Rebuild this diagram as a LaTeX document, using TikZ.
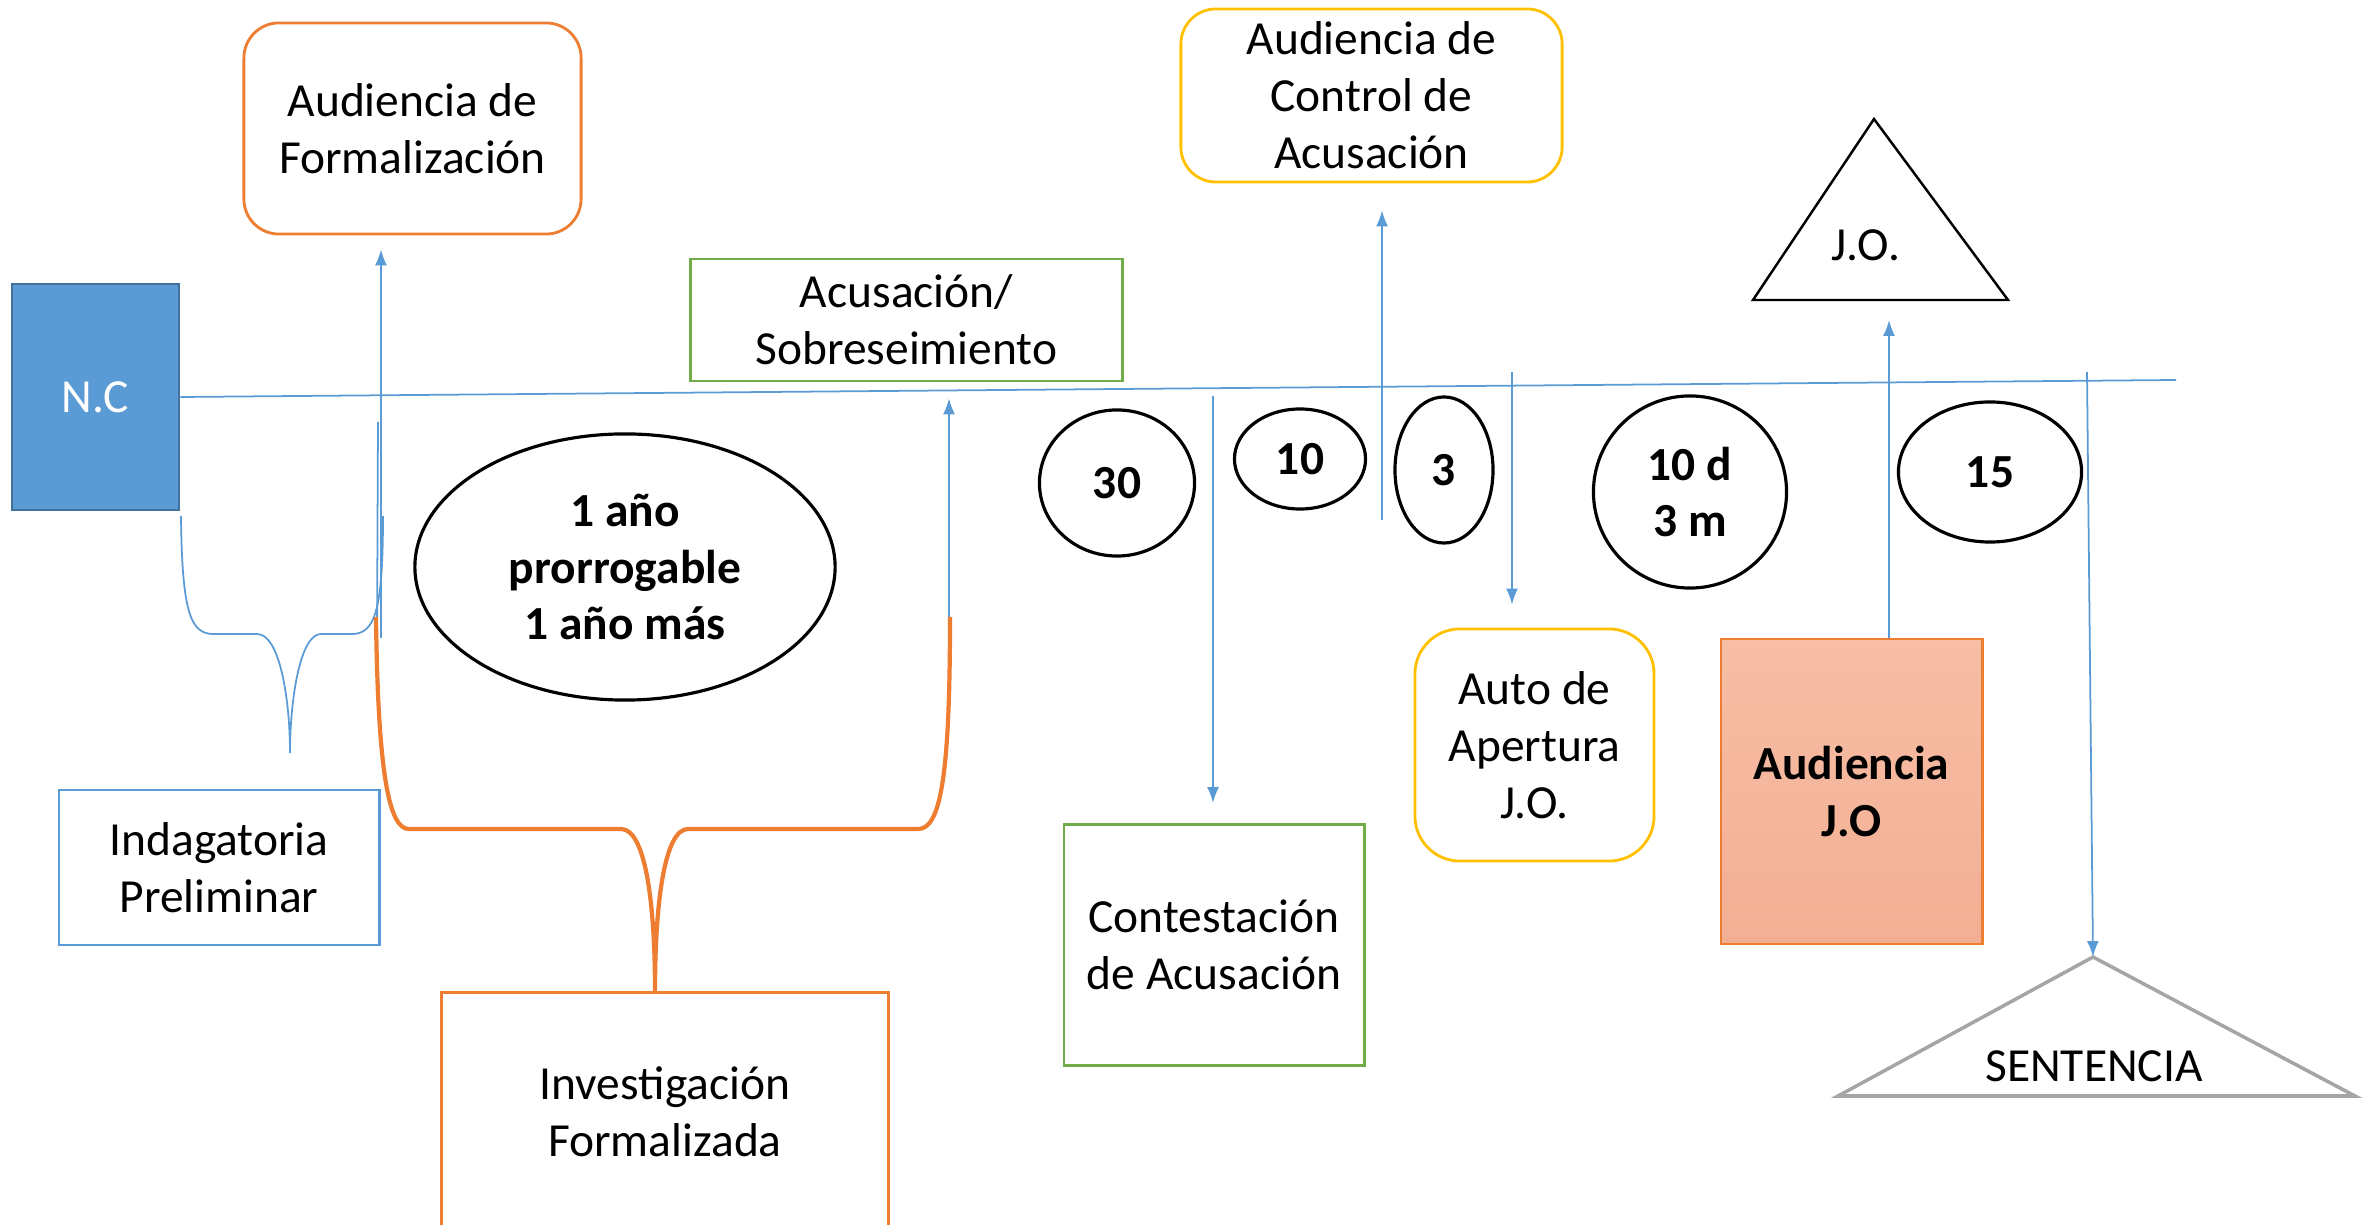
\documentclass[tikz,border=0pt]{standalone}
\usepackage{fontspec}
\setmainfont{Carlito}
\usepackage{tikz}
\usetikzlibrary{positioning,shapes.geometric,arrows.meta}
\usepackage{xcolor}
\definecolor{ncblue}{HTML}{5B9BD5}
\definecolor{ncdark}{HTML}{41719C}
\definecolor{orng}{HTML}{ED7D31}
\definecolor{grn}{HTML}{70AD47}
\definecolor{ylw}{HTML}{FFC000}
\definecolor{gry}{HTML}{A5A5A5}
\definecolor{salmtop}{HTML}{F7BEA5}
\definecolor{salmbot}{HTML}{F2AF94}

\begin{document}
\begin{tikzpicture}[x=0.01cm,y=-0.01cm,>={Latex[length=4.5pt,width=3.4pt]},
        font=\fontsize{13.5}{16.2}\selectfont,
        box/.style={rectangle,draw,line width=0.8pt,align=center,inner sep=0pt},
        soft box/.style={box,rounded corners=0.35cm},
        num node/.style={ellipse,draw,line width=0.9pt,inner sep=0pt,align=center,
            font=\fontsize{13.5}{16.2}\selectfont\bfseries},
        link/.style={->,draw=ncblue,line width=0.5pt}]

    \useasboundingbox (0,0) rectangle (2372,1225);

    % boxes
    \node[box,fill=ncblue,draw=ncdark,text=white,minimum width=1.67cm,minimum height=2.26cm] (nc) at (95.5,397) {N.C};
    \node[soft box,draw=orng,minimum width=3.37cm,minimum height=2.11cm] (af) at (412.5,128.5) {Audiencia de\\Formalización};
    \node[box,draw=ncblue,minimum width=3.2cm,minimum height=1.55cm] (ind) at (219,867.5) {Indagatoria\\Preliminar};
    \node[box,draw=orng,minimum width=4.46cm,minimum height=2.39cm] (inv) at (665,1112) {Investigación\\Formalizada};
    \node[box,draw=grn,minimum width=4.31cm,minimum height=1.22cm] (acu) at (906.5,320) {Acusación/\\Sobreseimiento};
    \node[box,draw=grn,minimum width=3cm,minimum height=2.41cm] (con) at (1214,945) {Contestación\\de Acusación};
    \node[soft box,draw=ylw,minimum width=3.81cm,minimum height=1.73cm] (ctl) at (1371.5,95.5) {Audiencia de\\Control de\\Acusación};
    \node[box,draw=ylw,rounded corners=0.45cm,minimum width=2.39cm,minimum height=2.32cm] (auto) at (1534.5,745) {Auto de\\Apertura\\J.O.};
    \node[box,draw=orng,top color=salmtop,bottom color=salmbot,font=\fontsize{13.5}{16.2}\selectfont\bfseries,
        minimum width=2.61cm,minimum height=3.05cm] (ajo) at (1851.5,791.5) {Audiencia\\J.O};

    % plazos
    \node[num node,minimum width=4.2cm,minimum height=2.66cm] (plazo) at (625,567) {1 año\\prorrogable\\1 año más};
    \node[num node,minimum width=1.55cm,minimum height=1.46cm] (d30) at (1117,483) {\raisebox{-0.09cm}{30}};
    \node[num node,minimum width=1.31cm,minimum height=1cm] (d10) at (1300,459) {\raisebox{-0.045cm}{10}};
    \node[num node,minimum width=0.98cm,minimum height=1.46cm] (d3) at (1444,470) {\raisebox{-0.03cm}{3}};
    \node[num node,minimum width=1.93cm,minimum height=1.92cm] (d10m) at (1690,492) {10 d\\3 m};
    \node[num node,minimum width=1.83cm,minimum height=1.4cm] (d15) at (1990,472) {\raisebox{-0.045cm}{15}};

    % triangulos
    \coordinate (jo) at (1874,119);
    \draw[line width=0.7pt] (jo) -- (2008,300) -- (1753,300) -- cycle;
    \node (jolabel) at (1866,245) {J.O.};
    \coordinate (st) at (2093,957);
    \draw[gry,line width=1pt] (st) -- (2355,1096) -- (1838,1096) -- cycle;
    \node (stlabel) at (2094,1066) {SENTENCIA};

    % linea de tiempo
    \coordinate (tl) at (2176,380);
    \draw[ncblue,line width=0.5pt] (nc.east) -- (tl);

    \coordinate (t1) at (381,638);
    \coordinate (t2) at (949,617);
    \coordinate (t3) at (1213,396);
    \coordinate (t4) at (1382,520);
    \coordinate (t5) at (1512,372);
    \coordinate (t6) at (1889,300);
    \coordinate (t7) at (2087,372);

    \draw[link,shorten >=0.14cm] (t1) -- (t1 |- af.south);
    \draw[ncblue,line width=0.5pt] (378,422) -- (377,640);
    \draw[link,shorten >=0.16cm] (t2) -- (t2 |- acu.south);
    \draw[link,shorten >=0.2cm] (t3) -- (t3 |- con.north);
    \draw[link,shorten >=0.27cm] (t4) -- (t4 |- ctl.south);
    \draw[link,shorten >=0.23cm] (t5) -- (t5 |- auto.north);
    \draw[link,shorten >=0.2cm] (ajo.north -| t6) -- (t6);
    \draw[link] (t7) -- (st);

    % llaves
    \draw[ncblue,line width=0.5pt] (181,516) .. controls (182,610) and (190,634) .. (213,634) -- (257,634)
        .. controls (280,634) and (290,700) .. (290,753)
        .. controls (290,700) and (300,634) .. (321,634) -- (352,634)
        .. controls (375,634) and (383,610) .. (383,516);
    \draw[orng,line width=1.2pt] (376,617) .. controls (378,780) and (390,829) .. (409,829) -- (621,829)
        .. controls (645,829) and (655,900) .. (655,992)
        .. controls (655,900) and (665,829) .. (688,829) -- (918,829)
        .. controls (940,829) and (950,780) .. (950,617);

\end{tikzpicture}
\end{document}
